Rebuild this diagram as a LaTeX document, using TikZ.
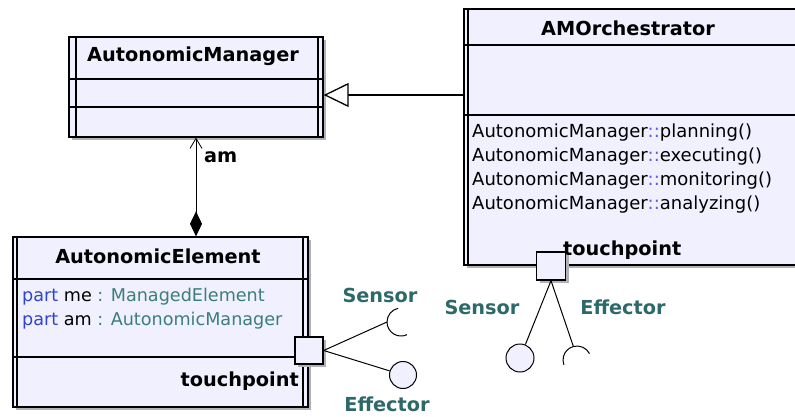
\documentclass[tikz,border=0pt]{standalone}
\usepackage{fontspec}
\setmainfont{DejaVu Sans}
\usetikzlibrary{arrows.meta,shadows,calc}
\usepackage{xcolor}

\definecolor{classfill}{RGB}{240,240,255}
\definecolor{portteal}{RGB}{45,105,105}
\definecolor{kwblue}{RGB}{45,70,205}
\definecolor{typeteal}{RGB}{60,125,125}
\definecolor{sepblue}{RGB}{90,90,230}

\tikzset{
  classbox/.style={draw, line width=1.3pt, fill=classfill, inner sep=0pt,
    drop shadow={shadow xshift=3pt, shadow yshift=-3pt, fill=black!30, opacity=1}},
  portbox/.style={classbox, minimum width=28pt, minimum height=27pt},
  provided/.style={draw, line width=1pt, fill=classfill, circle, inner sep=0pt, minimum size=27pt},
  title/.style={font=\fontsize{19.3}{22}\selectfont\bfseries},
  member/.style={font=\fontsize{17.6}{20}\selectfont, anchor=west, inner sep=0pt},
  portlabel/.style={title, text=portteal},
  wire/.style={line width=1pt},
  sepline/.style={line width=1.2pt}
}

\begin{document}
\begin{tikzpicture}[x=1pt,y=-1pt]
\clip (0,0) rectangle (795,417);

% class boxes
\node[classbox, minimum width=254pt, minimum height=100pt] (mgr) at (196,87) {};
\node[classbox, minimum width=295pt, minimum height=170pt] (ae) at (160.5,322) {};
\node[classbox, minimum width=370pt, minimum height=256pt] (orch) at (649,137) {};

% active class borders and compartments
\draw[sepline] (76,37) -- (76,137) (318,37) -- (318,137);
\foreach \y in {79,107} \draw[sepline] (69,\y) -- (323,\y);
\draw[sepline] (17,237) -- (17,407) (303,237) -- (303,407);
\foreach \y in {279,357} \draw[sepline] (13,\y) -- (308,\y);
\draw[sepline] (468,9) -- (468,265);
\foreach \y in {45,115} \draw[sepline] (464,\y) -- (834,\y);

% names
\node[title] (mgrT) at (193,56) {AutonomicManager};
\node[title] (aeT) at (158,256) {AutonomicElement};
\node[title] (orchT) at (628,28) {AMOrchestrator};

% parts
\node[member] (part1) at (22,297) {\textcolor{kwblue}{part} me \textcolor{typeteal}{: ManagedElement}};
\node[member] (part2) at (22,321) {\textcolor{kwblue}{part} am \textcolor{typeteal}{: AutonomicManager}};

% operations
\foreach \op [count=\i] in {planning,executing,monitoring,analyzing}
  \node[member, font=\fontsize{18}{20}\selectfont] (op\i) at (472,109+24*\i)
    {AutonomicManager\textcolor{sepblue}{::}\op()};

% ports
\node[portbox] (tpAE) at (309,350.5) {};
\node[portbox, minimum width=29pt, minimum height=28pt] (tpOrch) at (551,266) {};
\node[title, anchor=east, inner sep=0pt] (tpAEL) at (299,381) {touchpoint};
\node[title, anchor=west, inner sep=0pt] (tpOrchL) at (563,250) {touchpoint};

% interfaces
\node[provided] (provAE) at (403,375) {};
\node[provided, minimum size=28pt] (provOrch) at (520,358) {};
\coordinate (reqAE) at (387,322);
\coordinate (reqOrch) at (573.4,346.5);

\draw[wire] (tpAE.east) -- (provAE);
\draw[wire] (tpAE.east) -- (reqAE);
\draw[wire] (reqAE) arc[start angle=180, end angle=102, radius=14pt];
\draw[wire] (reqAE) arc[start angle=180, end angle=295, radius=14pt];
\draw[wire] (tpOrch.south) -- (provOrch);
\draw[wire] (tpOrch.south) -- (reqOrch);
\draw[wire] (reqOrch) arc[start angle=105, end angle=200, radius=14pt];
\draw[wire] (reqOrch) arc[start angle=105, end angle=27, radius=14pt];

\node[portlabel] (sensAE) at (380,295) {Sensor};
\node[portlabel, inner sep=1pt] (effAE) at (387,404) {Effector};
\node[portlabel] (sensOrch) at (482,307) {Sensor};
\node[portlabel] (effOrch) at (623,307) {Effector};

% relations
\draw[line width=1.3pt, -{Triangle[open, length=25pt, width=24pt, fill=white]}]
  (orch.west |- 0,95) -- (mgr.east |- 0,95);
\draw[line width=1pt, {Diamond[length=25pt, width=12pt]}-{Straight Barb[length=10pt, width=12pt, line width=0.8pt]}]
  (ae.north -| mgr.south) -- (mgr.south);
\node[title, anchor=west, inner sep=0pt] (amL) at (204,157) {am};

\end{tikzpicture}
\end{document}
